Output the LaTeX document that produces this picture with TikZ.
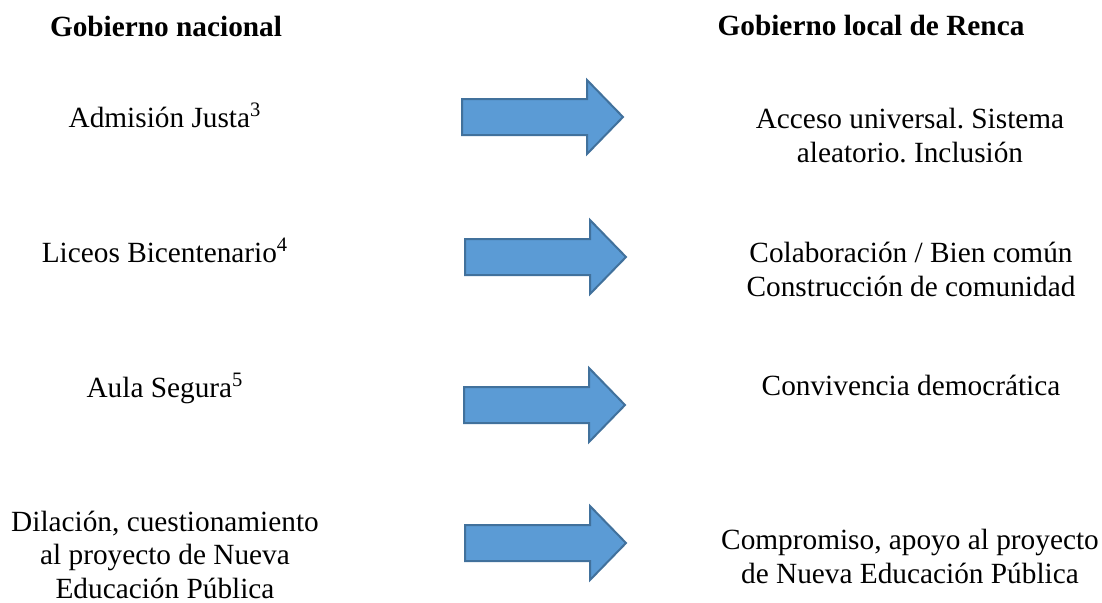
\documentclass[tikz,border=0pt]{standalone}
\usepackage{fontspec}
\setmainfont{Liberation Serif}
\frenchspacing
\definecolor{arrowfill}{HTML}{5B9BD5}
\definecolor{arrowline}{HTML}{41719C}
\begin{document}
\begin{tikzpicture}[x=0.5pt,y=-0.5pt,
  txt/.style={inner sep=0pt, align=center, font=\rmfamily\fontsize{14.65}{16.75}\selectfont, anchor=base},
  hdr/.style={txt, font=\rmfamily\fontsize{14.65}{16.75}\selectfont\bfseries},
  barrow/.style={fill=arrowfill, draw=arrowline, line width=1pt, line join=miter},
  blockarrow/.pic={\draw[barrow] (0,-18) -- (125,-18) -- (125,-37) -- (161,0) -- (125,37) -- (125,18) -- (0,18) -- cycle;}]
\useasboundingbox (0,0) rectangle (1102,602);
% headers
\node[hdr] (hl) at (166,36) {Gobierno nacional};
\node[hdr] (hr) at (871,35) {Gobierno local de Renca};
% left column
\node[txt] (l1) at (165,127) {Admisión Justa\textsuperscript{3}};
\node[txt] (l2) at (165,262) {Liceos Bicentenario\textsuperscript{4}};
\node[txt] (l3) at (165,397) {Aula Segura\textsuperscript{5}};
\node[txt] (l4) at (165,598) {Dilación, cuestionamiento\\al proyecto de Nueva\\Educación Pública};
% right column
\node[txt] (r1) at (910,162) {Acceso universal. Sistema\\aleatorio. Inclusión};
\node[txt] (r2) at (911,296) {Colaboración / Bien común\\Construcción de comunidad};
\node[txt] (r3) at (911,395) {Convivencia democrática};
\node[txt] (r4) at (910,583) {Compromiso, apoyo al proyecto\\de Nueva Educación Pública};
% arrows
\pic (a1) at (462,117) {blockarrow};
\pic (a2) at (465,257) {blockarrow};
\pic (a3) at (464,405) {blockarrow};
\pic (a4) at (465,543) {blockarrow};
\end{tikzpicture}
\end{document}
